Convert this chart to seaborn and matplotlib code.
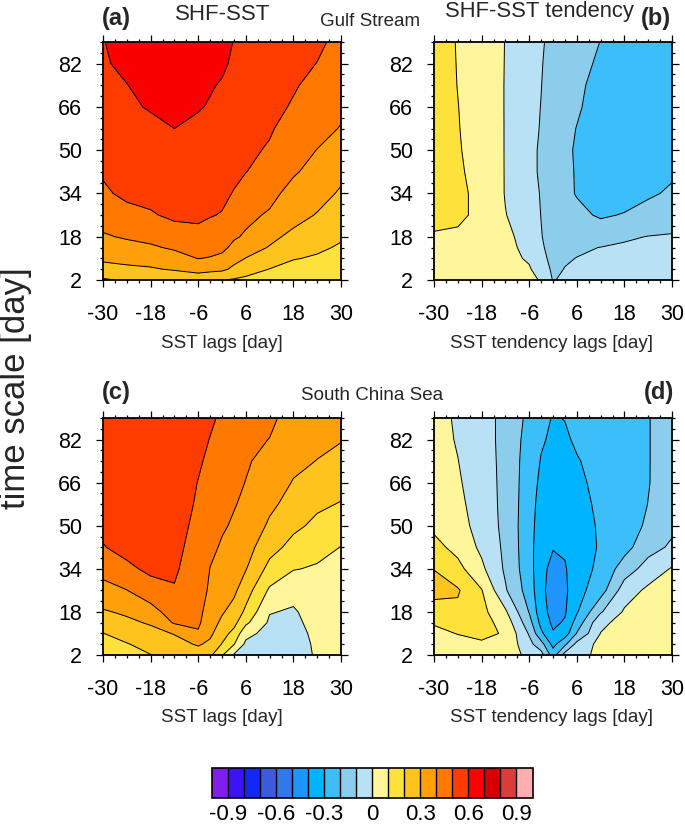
import numpy as np
import matplotlib
matplotlib.use("Agg")
import matplotlib.pyplot as plt
import seaborn as sns
from matplotlib.colors import ListedColormap, BoundaryNorm
from matplotlib.ticker import MultipleLocator, FixedLocator
from matplotlib.cm import ScalarMappable

sns.set_theme(style="ticks")
plt.rcParams["font.family"] = ["Liberation Sans", "DejaVu Sans"]
plt.rcParams["axes.unicode_minus"] = False
plt.rcParams["contour.negative_linestyle"] = "solid"

# ---------------- data ----------------
lags = [-30, -24, -18, -12, -6, -3, 0, 3, 6, 12, 18, 24, 30]
scales = [2, 6, 10, 14, 18, 26, 34, 42, 50, 58, 66, 74, 82, 90]

# each inner list = one lag column, values from scale 2 (bottom) to 90 (top)
gs_shf_sst = [
    [0.19, 0.26, 0.32, 0.35, 0.39, 0.44, 0.485, 0.51, 0.53, 0.55, 0.565, 0.58, 0.59, 0.597],
    [0.21, 0.28, 0.33, 0.37, 0.41, 0.47, 0.52, 0.54, 0.56, 0.58, 0.59, 0.598, 0.62, 0.63],
    [0.21, 0.29, 0.34, 0.39, 0.42, 0.49, 0.53, 0.55, 0.57, 0.585, 0.605, 0.63, 0.64, 0.65],
    [0.22, 0.31, 0.37, 0.41, 0.45, 0.52, 0.54, 0.56, 0.58, 0.6, 0.615, 0.635, 0.65, 0.66],
    [0.23, 0.34, 0.402, 0.43, 0.47, 0.52, 0.545, 0.56, 0.575, 0.585, 0.605, 0.62, 0.635, 0.645],
    [0.21, 0.33, 0.395, 0.43, 0.46, 0.505, 0.535, 0.55, 0.565, 0.58, 0.595, 0.605, 0.62, 0.635],
    [0.205, 0.32, 0.38, 0.42, 0.445, 0.495, 0.52, 0.54, 0.555, 0.57, 0.585, 0.595, 0.61, 0.62],
    [0.19, 0.28, 0.33, 0.38, 0.41, 0.455, 0.495, 0.52, 0.54, 0.555, 0.57, 0.58, 0.59, 0.598],
    [0.18, 0.24, 0.298, 0.335, 0.39, 0.42, 0.46, 0.502, 0.52, 0.535, 0.55, 0.56, 0.57, 0.58],
    [0.15, 0.198, 0.25, 0.295, 0.32, 0.39, 0.425, 0.46, 0.49, 0.51, 0.53, 0.545, 0.555, 0.565],
    [0.13, 0.17, 0.205, 0.24, 0.28, 0.33, 0.37, 0.41, 0.44, 0.46, 0.49, 0.51, 0.53, 0.54],
    [0.11, 0.15, 0.19, 0.215, 0.24, 0.295, 0.33, 0.37, 0.398, 0.43, 0.45, 0.47, 0.498, 0.52],
    [0.105, 0.14, 0.17, 0.19, 0.21, 0.25, 0.29, 0.32, 0.36, 0.395, 0.42, 0.44, 0.455, 0.47],
]

gs_shf_tend = [
    [0.06, 0.07, 0.085, 0.09, 0.095, 0.115, 0.12, 0.125, 0.125, 0.125, 0.125, 0.125, 0.125, 0.125],
    [0.055, 0.065, 0.075, 0.08, 0.09, 0.112, 0.108, 0.106, 0.104, 0.102, 0.101, 0.099, 0.098, 0.097],
    [0.045, 0.05, 0.055, 0.06, 0.065, 0.085, 0.09, 0.085, 0.08, 0.08, 0.075, 0.075, 0.075, 0.075],
    [0.035, 0.03, 0.025, 0.02, 0.015, 0.003, -0.005, -0.005, -0.005, -0.005, -0.005, -0.005, -0.004, -0.003],
    [0.03, 0.008, -0.01, -0.02, -0.025, -0.05, -0.07, -0.08, -0.08, -0.075, -0.07, -0.07, -0.065, -0.06],
    [-0.01, -0.04, -0.07, -0.085, -0.095, -0.102, -0.105, -0.11, -0.11, -0.105, -0.102, -0.098, -0.095, -0.09],
    [-0.105, -0.12, -0.13, -0.14, -0.145, -0.15, -0.155, -0.16, -0.16, -0.16, -0.15, -0.14, -0.13, -0.125],
    [-0.085, -0.097, -0.11, -0.125, -0.14, -0.165, -0.18, -0.185, -0.185, -0.18, -0.175, -0.17, -0.165, -0.16],
    [-0.07, -0.085, -0.098, -0.115, -0.13, -0.18, -0.205, -0.205, -0.208, -0.202, -0.19, -0.185, -0.18, -0.175],
    [-0.05, -0.07, -0.085, -0.098, -0.15, -0.21, -0.24, -0.25, -0.25, -0.245, -0.235, -0.225, -0.21, -0.201],
    [-0.04, -0.06, -0.075, -0.09, -0.11, -0.195, -0.235, -0.25, -0.255, -0.255, -0.255, -0.255, -0.255, -0.255],
    [-0.04, -0.055, -0.07, -0.085, -0.098, -0.16, -0.215, -0.245, -0.255, -0.26, -0.26, -0.26, -0.26, -0.26],
    [-0.035, -0.05, -0.065, -0.08, -0.095, -0.13, -0.185, -0.215, -0.235, -0.245, -0.25, -0.25, -0.25, -0.25],
]

scs_shf_sst = [
    [0.15, 0.18, 0.198, 0.25, 0.29, 0.37, 0.43, 0.495, 0.52, 0.54, 0.55, 0.56, 0.57, 0.575],
    [0.17, 0.195, 0.235, 0.28, 0.315, 0.398, 0.48, 0.53, 0.555, 0.57, 0.58, 0.585, 0.59, 0.595],
    [0.198, 0.23, 0.27, 0.31, 0.36, 0.46, 0.52, 0.55, 0.57, 0.58, 0.59, 0.595, 0.598, 0.598],
    [0.23, 0.265, 0.305, 0.41, 0.45, 0.495, 0.51, 0.52, 0.53, 0.54, 0.545, 0.55, 0.555, 0.56],
    [0.25, 0.31, 0.39, 0.415, 0.425, 0.445, 0.46, 0.47, 0.48, 0.49, 0.498, 0.51, 0.52, 0.53],
    [0.22, 0.28, 0.32, 0.345, 0.36, 0.385, 0.398, 0.42, 0.44, 0.46, 0.475, 0.485, 0.498, 0.51],
    [0.11, 0.195, 0.24, 0.28, 0.31, 0.345, 0.37, 0.39, 0.41, 0.43, 0.445, 0.46, 0.475, 0.49],
    [-0.01, 0.105, 0.17, 0.23, 0.265, 0.32, 0.35, 0.37, 0.39, 0.405, 0.42, 0.435, 0.45, 0.465],
    [-0.05, -0.02, 0.03, 0.12, 0.18, 0.245, 0.305, 0.34, 0.37, 0.385, 0.398, 0.41, 0.425, 0.44],
    [-0.06, -0.05, -0.035, -0.015, 0.005, 0.085, 0.17, 0.235, 0.285, 0.32, 0.345, 0.37, 0.398, 0.42],
    [-0.04, -0.04, -0.03, -0.02, -0.01, 0.03, 0.105, 0.17, 0.22, 0.265, 0.295, 0.32, 0.345, 0.36],
    [0.01, 0.015, 0.02, 0.03, 0.04, 0.06, 0.09, 0.13, 0.18, 0.215, 0.26, 0.298, 0.32, 0.34],
    [0.02, 0.025, 0.03, 0.04, 0.05, 0.065, 0.085, 0.098, 0.14, 0.195, 0.23, 0.27, 0.305, 0.325],
]

scs_shf_tend = [
    [0.06, 0.08, 0.085, 0.105, 0.16, 0.23, 0.198, 0.13, 0.08, 0.06, 0.05, 0.045, 0.04, 0.04],
    [0.06, 0.08, 0.102, 0.14, 0.18, 0.21, 0.13, 0.07, 0.04, 0.025, 0.012, 0.002, -0.008, -0.015],
    [0.05, 0.085, 0.125, 0.14, 0.13, 0.105, 0.02, -0.02, -0.04, -0.05, -0.055, -0.06, -0.065, -0.065],
    [0.04, 0.075, 0.09, 0.06, 0.015, -0.09, -0.115, -0.12, -0.125, -0.125, -0.125, -0.125, -0.125, -0.125],
    [-0.02, -0.07, -0.11, -0.16, -0.205, -0.245, -0.26, -0.265, -0.265, -0.26, -0.255, -0.25, -0.24, -0.225],
    [-0.06, -0.16, -0.28, -0.33, -0.36, -0.375, -0.37, -0.36, -0.345, -0.335, -0.32, -0.305, -0.29, -0.275],
    [-0.25, -0.33, -0.39, -0.42, -0.435, -0.445, -0.43, -0.395, -0.375, -0.36, -0.345, -0.33, -0.315, -0.305],
    [-0.06, -0.22, -0.35, -0.39, -0.41, -0.42, -0.41, -0.385, -0.37, -0.355, -0.34, -0.325, -0.31, -0.298],
    [-0.04, -0.07, -0.195, -0.26, -0.31, -0.335, -0.34, -0.34, -0.335, -0.325, -0.315, -0.305, -0.29, -0.275],
    [0.03, 0.03, 0.002, -0.02, -0.11, -0.245, -0.28, -0.292, -0.29, -0.285, -0.28, -0.275, -0.27, -0.265],
    [0.04, 0.04, 0.04, 0.03, 0.012, -0.05, -0.15, -0.235, -0.26, -0.27, -0.27, -0.27, -0.265, -0.26],
    [0.05, 0.05, 0.05, 0.05, 0.045, 0.02, -0.06, -0.135, -0.18, -0.198, -0.205, -0.205, -0.205, -0.205],
    [0.06, 0.06, 0.06, 0.06, 0.055, 0.035, 0.008, -0.085, -0.12, -0.135, -0.14, -0.145, -0.145, -0.145],
]

x_ticks = [-30, -18, -6, 6, 18, 30]
y_ticks = [2, 18, 34, 50, 66, 82]
cbar_ticks = [-0.9, -0.6, -0.3, 0, 0.3, 0.6, 0.9]
cbar_ticklabels = ["-0.9", "-0.6", "-0.3", "0", "0.3", "0.6", "0.9"]

palette_hex = ["#7F1FEF", "#3A14F5", "#1428F5", "#3C5ADC", "#3278E6",
               "#1E96FF", "#00B4FF", "#3CBEFA", "#8CCDEB", "#B9E1F5",
               "#FFF59B", "#FFE13C", "#FFC31E", "#FFA00A", "#FF7800",
               "#FF3C00", "#FA0000", "#D70000", "#DC3C3C", "#FFAFAF"]

# ---------------- styling ----------------
cmap = ListedColormap(sns.color_palette(palette_hex))
bounds = np.round(np.arange(-1.0, 1.001, 0.1), 2)
norm = BoundaryNorm(bounds, cmap.N)
line_levels = bounds[1:-1]

W, H = 685, 824
fig = plt.figure(figsize=(W / 100, H / 100), dpi=100)
fig.patch.set_facecolor("white")

def fx(px):
    return px / W

def fy(py):
    return 1 - py / H

axw = (341 - 103) / W
panels = [
    (gs_shf_sst, [fx(103), fy(280), axw, (280 - 42) / H]),
    (gs_shf_tend, [fx(434), fy(280), axw, (280 - 42) / H]),
    (scs_shf_sst, [fx(103), fy(655), axw, (655 - 418) / H]),
    (scs_shf_tend, [fx(434), fy(655), axw, (655 - 418) / H]),
]

for data, pos in panels:
    ax = fig.add_axes(pos)
    Z = np.array(data).T
    ax.contourf(lags, scales, Z, levels=bounds, cmap=cmap, norm=norm)
    ax.contour(lags, scales, Z, levels=line_levels, colors="black",
               linewidths=0.7, linestyles="solid")
    ax.set_xlim(-30, 30)
    ax.set_ylim(2, 90)
    ax.set_xticks(x_ticks)
    ax.set_xticklabels([str(v) for v in x_ticks])
    ax.set_yticks(y_ticks)
    ax.set_yticklabels([str(v) for v in y_ticks])
    ax.xaxis.set_minor_locator(MultipleLocator(3))
    ax.yaxis.set_minor_locator(FixedLocator(np.arange(2, 91, 4)))
    ax.tick_params(which="both", direction="out", top=True, right=True,
                   labeltop=False, labelright=False, color="black", width=0.9)
    ax.tick_params(which="major", length=5, labelsize=15.5, labelcolor="black")
    ax.tick_params(axis="x", which="major", pad=12)
    ax.tick_params(axis="y", which="major", pad=10)
    ax.tick_params(which="minor", length=2.5)
    for s in ax.spines.values():
        s.set_linewidth(1.3)
        s.set_color("black")
    ax.grid(False)

# titles / annotations
bold = dict(ha="center", va="center", fontsize=17, fontweight="bold")
fig.text(fx(116), fy(18), "(a)", **bold)
fig.text(fx(223), fy(14), "SHF-SST", ha="center", va="center", fontsize=16)
fig.text(fx(370), fy(22), "Gulf Stream", ha="center", va="center", fontsize=13.5)
fig.text(fx(539), fy(12), "SHF-SST tendency", ha="center", va="center", fontsize=15.8)
fig.text(fx(656), fy(18), "(b)", **bold)
fig.text(fx(116), fy(392), "(c)", **bold)
fig.text(fx(372), fy(396), "South China Sea", ha="center", va="center", fontsize=13.5)
fig.text(fx(659), fy(393), "(d)", **bold)

xl = dict(ha="center", va="center", fontsize=13.5)
fig.text(fx(222), fy(343), "SST lags [day]", **xl)
fig.text(fx(552), fy(343), "SST tendency lags [day]", **xl)
fig.text(fx(222), fy(718), "SST lags [day]", **xl)
fig.text(fx(552), fy(718), "SST tendency lags [day]", **xl)

fig.text(fx(16), fy(388), "time scale [day]", ha="center", va="center",
         rotation=90, fontsize=25)

# colorbar
cax = fig.add_axes([fx(212), fy(797.5), (532.5 - 212) / W, (797.5 - 767.5) / H])
sm = ScalarMappable(norm=norm, cmap=cmap)
cb = fig.colorbar(sm, cax=cax, orientation="horizontal", boundaries=bounds,
                  ticks=cbar_ticks, drawedges=True)
cb.ax.set_xticklabels(cbar_ticklabels)
cb.ax.tick_params(length=0, labelsize=16, pad=5, labelcolor="black")
cb.outline.set_linewidth(1.2)
cb.outline.set_edgecolor("black")
cb.dividers.set_color("black")
cb.dividers.set_linewidth(1.0)
cb.ax.minorticks_off()

fig.savefig("out.png", dpi=100, facecolor="white")
